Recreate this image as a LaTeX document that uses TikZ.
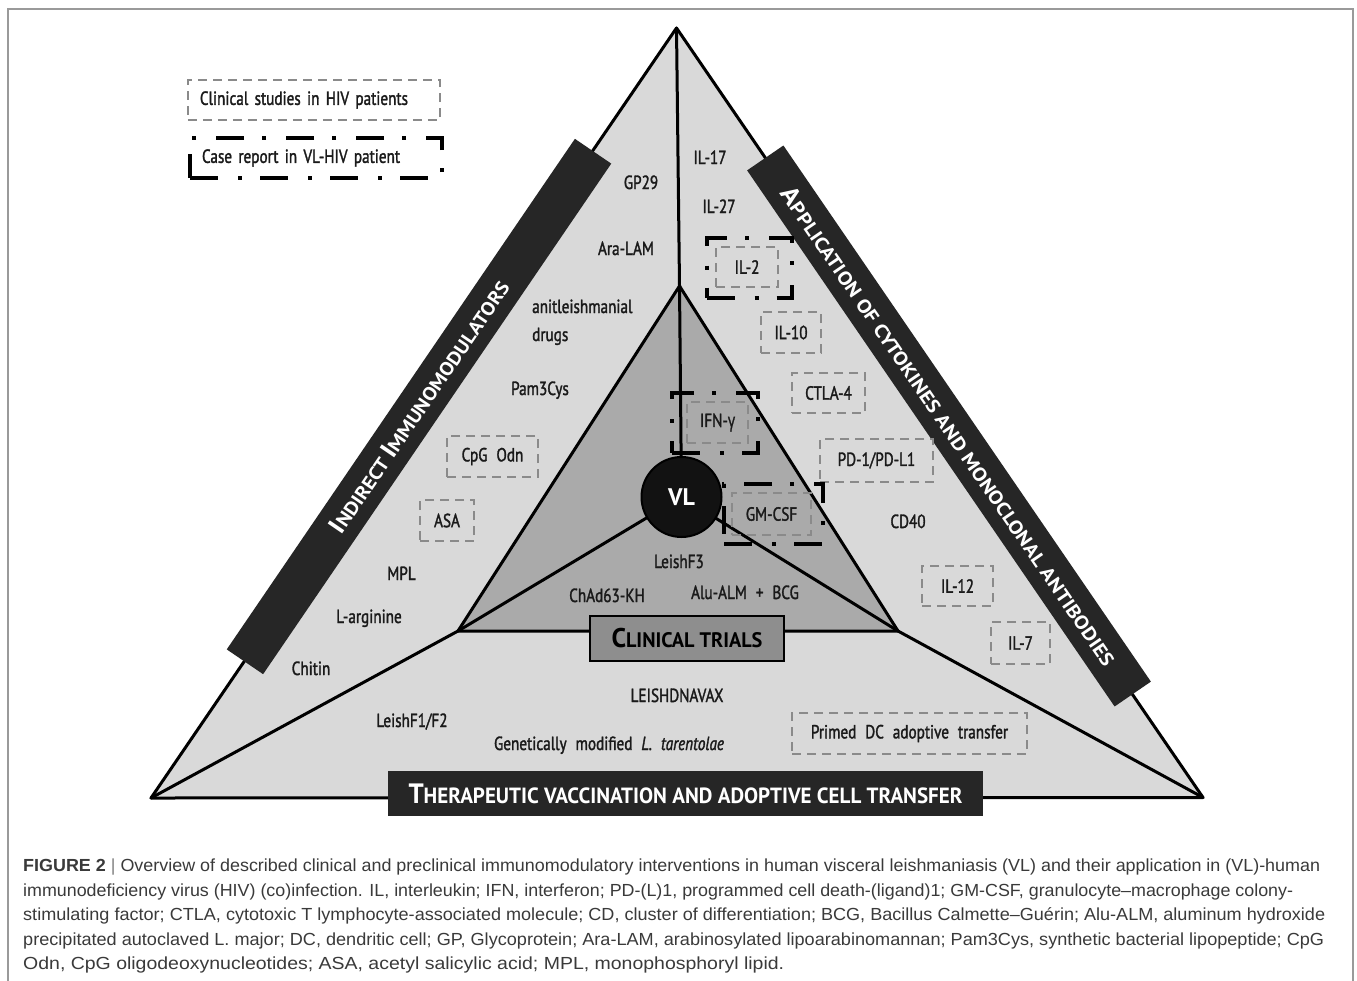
\documentclass[tikz,border=0pt]{standalone}
\usepackage{fontspec}
\usepackage{graphicx}
\setmainfont{Liberation Sans}
\newfontfamily\labfont{PT Sans}[FakeStretch=0.8,FakeBold=1.6,WordSpace=2.2]
\newfontfamily\grkfont{Open Sans}[FakeStretch=0.74,FakeBold=1.2]
\newfontfamily\banfont{PT Sans}
\newfontfamily\capfont{Liberation Sans}
\newcommand\bsz[1]{\fontsize{#1}{#1}\selectfont}
\newcommand\capline[2]{\resizebox{#1}{\height}{\capfont\fontsize{17.5}{20}\selectfont #2}}
\definecolor{outerfill}{HTML}{D9D9D9}
\definecolor{innerfill}{HTML}{AAAAAA}
\definecolor{bandfill}{HTML}{262626}
\definecolor{trialfill}{HTML}{8E8E8E}
\definecolor{dashgray}{HTML}{8A8A8A}
\definecolor{captext}{HTML}{3A3A3A}
\definecolor{framegray}{HTML}{9A9A9A}
\definecolor{labtext}{HTML}{1A1A1A}
\begin{document}
\begin{tikzpicture}[x=1pt,y=-1pt,
  lab/.style={font=\labfont\fontsize{19}{21}\selectfont, text=labtext, inner sep=0pt, anchor=base},
  gbox/.style={draw=dashgray, line width=1.8pt, dash pattern=on 9pt off 6pt, inner sep=0pt,
    font=\labfont\fontsize{19}{21}\selectfont, text=labtext},
  kbox/.style={draw=black, line width=4pt, dash pattern=on 28pt off 20pt on 4pt off 18pt, inner sep=0pt},
  band/.style={fill=bandfill, text=white, inner sep=0pt, font=\banfont\bfseries},
  edge/.style={draw=black, line width=3pt, line join=round, line cap=round},
  capl/.style={anchor=base west, inner sep=0pt, text=captext}
]
\useasboundingbox (0,0) rectangle (1357,980);
\fill[white] (0,0) rectangle (1357,980);
% frame
\draw[framegray, line width=1.5pt] (8,990) -- (8,9) -- (1353,9) -- (1353,990);

% vertices
\coordinate (A) at (676.5,28);
\coordinate (BL) at (151,798);
\coordinate (BR) at (1203,797.5);
\coordinate (a) at (679.5,286);
\coordinate (bl) at (458,631);
\coordinate (br) at (898,631);
\coordinate (vlc) at (681.5,497);

\path[edge, fill=outerfill] (A) -- (BL) -- (BR) -- cycle;
\path[edge, fill=innerfill] (a) -- (bl) -- (br) -- cycle;
\draw[edge] (A) -- (a);
\draw[edge] (BL) -- (bl);
\draw[edge] (BR) -- (br);
\draw[edge] (a) -- (vlc);
\draw[edge] (vlc) -- (bl);
\draw[edge] (vlc) -- (br);

\node[circle, fill=black!93, draw=black, line width=2pt, minimum size=80pt, inner sep=0pt,
  text=white, font=\banfont\bfseries\fontsize{24}{24}\selectfont] (vl) at (vlc) {VL};

% banners
\node[band, rotate=55.71, minimum width=618pt, minimum height=44pt] (bandL) at (419,406.5)
  {\resizebox{300pt}{\height}{\bsz{25}I\bsz{19}NDIRECT \bsz{25}I\bsz{19}MMUNOMODULATORS}};
\node[band, rotate=-55.57, minimum width=650pt, minimum height=44pt] (bandR) at (949,426)
  {\resizebox{575pt}{\height}{\bsz{25}A\bsz{19}PPLICATION OF CYTOKINES AND MONOCLONAL ANTIBODIES}};
\node[band, minimum width=595pt, minimum height=45pt] (bandB) at (685.5,793.5)
  {\resizebox{554pt}{\height}{\bsz{28}T\bsz{22}HERAPEUTIC VACCINATION AND ADOPTIVE CELL TRANSFER}};
\node[fill=trialfill, draw=black, line width=2pt, minimum width=194pt, minimum height=45pt, inner sep=0pt,
  font=\banfont\bfseries] (trials) at (687,638.5)
  {\resizebox{151pt}{\height}{\bsz{27}C\bsz{21}LINICAL TRIALS}};

% legend
\node[gbox, anchor=west, minimum height=40pt, text width=228pt, inner xsep=12pt, align=left] (leg1) at (187,100)
  {Clinical studies in HIV patients};
\node[kbox, anchor=west, minimum height=40pt, text width=228pt, inner xsep=12pt, align=left,
  font=\labfont\fontsize{19}{21}\selectfont, text=labtext] (leg2) at (188,158)
  {Case report in VL-HIV patient};

% left sector labels
\node[lab] (gp29) at (641,189) {GP29};
\node[lab] (aralam) at (626,255) {Ara-LAM};
\node[lab, anchor=base west] (drugs1) at (532,313) {anitleishmanial};
\node[lab, anchor=base west] (drugs2) at (532,341) {drugs};
\node[lab] (pam) at (540,395) {Pam3Cys};
\node[gbox, minimum width=91pt, minimum height=41pt] (cpg) at (492.5,456.5) {CpG Odn};
\node[gbox, minimum width=54pt, minimum height=41pt] (asa) at (447,520.5) {ASA};
\node[lab] (mpl) at (401.5,580) {MPL};
\node[lab] (larg) at (369,623) {L-arginine};
\node[lab] (chitin) at (311,675) {Chitin};

% right sector labels
\node[lab] (il17) at (710,164) {IL-17};
\node[lab] (il27) at (719,213) {IL-27};
\node[kbox, minimum width=85pt, minimum height=60pt] (il2k) at (749,267.5) {};
\node[gbox, minimum width=62pt, minimum height=40pt] (il2) at (747,267) {IL-2};
\node[gbox, minimum width=60pt, minimum height=41pt] (il10) at (791,332.5) {IL-10};
\node[gbox, minimum width=73pt, minimum height=40pt] (ctla) at (828.5,393) {CTLA-4};
\node[gbox, minimum width=113pt, minimum height=43pt] (pd1) at (876.5,460.5) {PD-1/PD-L1};
\node[lab] (cd40) at (908,528) {CD40};
\node[gbox, minimum width=71pt, minimum height=40pt] (il12) at (957.5,586) {IL-12};
\node[gbox, minimum width=59pt, minimum height=42pt] (il7) at (1020.5,643) {IL-7};

% inner labels
\node[kbox, minimum width=86pt, minimum height=60pt] (ifnk) at (715,423) {};
\node[gbox, minimum width=61pt, minimum height=41pt] (ifn) at (717.5,422.5) {IFN-{\grkfont γ}};
\node[kbox, minimum width=99pt, minimum height=60pt] (gmk) at (773.5,514) {};
\node[gbox, minimum width=79pt, minimum height=42pt] (gm) at (771.5,514) {GM-CSF};
\node[lab] (lf3) at (679,568) {LeishF3};
\node[lab] (chad) at (607,602) {ChAd63-KH};
\node[lab] (alu) at (745,599) {Alu-ALM + BCG};

% bottom sector labels
\node[lab] (ldna) at (677,702) {LEISHDNAVAX};
\node[lab] (lf12) at (412,727) {LeishF1/F2};
\node[lab] (gen) at (609,750) {Genetically modified \textit{L. tarentolae}};
\node[gbox, minimum width=235pt, minimum height=41pt] (dc) at (909.5,733.5) {Primed DC adoptive transfer};

% caption
\node[capl] (cap1) at (23,871.5) {\capline{1297pt}{\textbf{FIGURE 2} {\color{gray}|} Overview of described clinical and preclinical immunomodulatory interventions in human visceral leishmaniasis (VL) and their application in (VL)-human}};
\node[capl] (cap2) at (23,896) {\capline{1270pt}{immunodeficiency virus (HIV) (co)infection. IL, interleukin; IFN, interferon; PD-(L)1, programmed cell death-(ligand)1; GM-CSF, granulocyte–macrophage colony-}};
\node[capl] (cap3) at (23,920.5) {\capline{1302pt}{stimulating factor; CTLA, cytotoxic T lymphocyte-associated molecule; CD, cluster of differentiation; BCG, Bacillus Calmette–Guérin; Alu-ALM, aluminum hydroxide}};
\node[capl] (cap4) at (23,945) {\capline{1301pt}{precipitated autoclaved L. major; DC, dendritic cell; GP, Glycoprotein; Ara-LAM, arabinosylated lipoarabinomannan; Pam3Cys, synthetic bacterial lipopeptide; CpG}};
\node[capl] (cap5) at (23,969.5) {\capline{761pt}{Odn, CpG oligodeoxynucleotides; ASA, acetyl salicylic acid; MPL, monophosphoryl lipid.}};
\end{tikzpicture}
\end{document}
